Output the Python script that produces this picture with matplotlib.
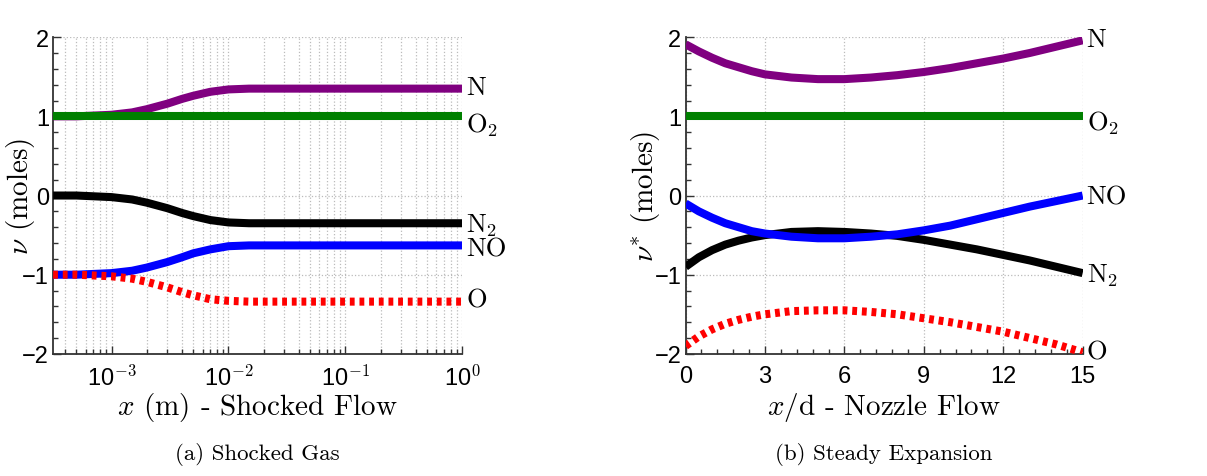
import matplotlib
matplotlib.use('Agg')
import matplotlib.pyplot as plt
import numpy as np
from matplotlib.ticker import FixedLocator, FuncFormatter, MultipleLocator, LogLocator, NullFormatter

plt.rcParams['mathtext.fontset'] = 'cm'
plt.rcParams['axes.unicode_minus'] = True

# (a) shocked gas
x_shock = [10**-3.5, 5e-4, 1e-3, 1.5e-3, 2e-3, 3e-3, 4e-3, 5e-3, 7e-3, 1e-2, 1.5e-2, 2e-2, 5e-2, 1e-1, 1.0]
N_shock = [1.0, 1.0, 1.02, 1.05, 1.09, 1.16, 1.22, 1.26, 1.31, 1.34, 1.35, 1.35, 1.35, 1.35, 1.35]
O2_shock = [1.0] * len(x_shock)
N2_shock = [0.0, 0.0, -0.02, -0.05, -0.09, -0.16, -0.22, -0.26, -0.31, -0.34, -0.35, -0.35, -0.35, -0.35, -0.35]
NO_shock = [-1.0, -1.0, -0.98, -0.95, -0.91, -0.84, -0.78, -0.73, -0.68, -0.64, -0.63, -0.63, -0.63, -0.63, -0.63]
O_shock = [-1.0, -1.0, -1.02, -1.05, -1.09, -1.16, -1.22, -1.26, -1.31, -1.33, -1.34, -1.34, -1.34, -1.34, -1.34]

# (b) steady expansion
x_noz = [0, 0.5, 1, 1.5, 2, 2.5, 3, 4, 5, 6, 7, 8, 9, 10, 11, 12, 13, 14, 15]
N_noz = [1.91, 1.82, 1.74, 1.67, 1.62, 1.57, 1.53, 1.49, 1.47, 1.47, 1.49, 1.52, 1.56, 1.61, 1.67, 1.73, 1.80, 1.88, 1.96]
O2_noz = [1.0] * len(x_noz)
NO_noz = [-0.10, -0.20, -0.28, -0.35, -0.40, -0.45, -0.48, -0.52, -0.54, -0.54, -0.52, -0.49, -0.44, -0.38, -0.30, -0.22, -0.14, -0.07, 0.0]
N2_noz = [-0.90, -0.78, -0.69, -0.62, -0.57, -0.53, -0.50, -0.46, -0.45, -0.46, -0.48, -0.51, -0.56, -0.62, -0.68, -0.75, -0.82, -0.90, -0.98]
O_noz = [-1.90, -1.78, -1.69, -1.62, -1.57, -1.53, -1.50, -1.46, -1.45, -1.45, -1.47, -1.50, -1.55, -1.60, -1.66, -1.72, -1.80, -1.88, -1.98]

species = ['N', 'O$_2$', 'N$_2$', 'NO', 'O']
colors = ['#800080', '#008000', 'black', '#0000ff', '#ff0000']

fig = plt.figure(figsize=(12.07, 4.77), dpi=100)
ax1 = fig.add_axes([0.044, 0.256, 0.339, 0.664])
ax2 = fig.add_axes([0.568, 0.256, 0.329, 0.664])

tick_font = 'Liberation Sans'
lab_font = 'cmr10'
lw = 5.8


def style(ax):
    for s in ['top', 'right']:
        ax.spines[s].set_visible(False)
    for s in ['left', 'bottom']:
        ax.spines[s].set_color('#333333')
        ax.spines[s].set_linewidth(1.3)
    ax.tick_params(which='both', direction='in', colors='#333333', labelcolor='black',
                   labelsize=17, width=1.0)
    ax.tick_params(which='major', length=6)
    ax.tick_params(axis='x', which='major', pad=8)
    ax.tick_params(axis='y', which='major', pad=3)
    ax.tick_params(which='minor', length=3.5)
    for lab in ax.get_xticklabels() + ax.get_yticklabels():
        lab.set_fontfamily(tick_font)


def draw(ax, x, series, label_y):
    for i, (y, c) in enumerate(zip(series, colors)):
        if species[i] == 'O':
            ax.plot(x, y, color=c, lw=lw, dashes=(0.6, 0.6), solid_capstyle='butt',
                    dash_capstyle='butt', zorder=3)
        else:
            ax.plot(x, y, color=c, lw=lw, solid_capstyle='butt', zorder=3)
        ax.text(1.01, label_y[i], species[i], transform=ax.get_yaxis_transform(),
                fontsize=19, fontfamily=lab_font, va='center', ha='left')


def labels(ax, xl, yl, ycoord):
    ax.set_xlabel(xl, fontfamily=lab_font, fontsize=21)
    ax.set_ylabel(yl, fontfamily=lab_font, fontsize=21)
    ax.xaxis.label.set_va('center')
    ax.yaxis.label.set_va('center')
    ax.xaxis.set_label_coords(0.5, -0.165)
    ax.yaxis.set_label_coords(ycoord, 0.5)


# left panel
ax1.set_xscale('log')
draw(ax1, x_shock, [N_shock, O2_shock, N2_shock, NO_shock, O_shock],
     [1.37, 0.9, -0.37, -0.67, -1.32])
ax1.set_xlim(10**-3.5, 1)
ax1.set_ylim(-2, 2)
ax1.xaxis.set_major_locator(FixedLocator([1e-3, 1e-2, 1e-1, 1]))
ax1.xaxis.set_major_formatter(FuncFormatter(lambda v, p: r'10$^{\mathsf{%d}}$' % round(np.log10(v))))
ax1.xaxis.set_minor_locator(LogLocator(base=10, subs=np.arange(2, 10)))
ax1.xaxis.set_minor_formatter(NullFormatter())
ax1.yaxis.set_major_locator(MultipleLocator(1))
ax1.yaxis.set_minor_locator(MultipleLocator(0.2))
ax1.grid(which='major', axis='both', linestyle=':', color='#bbbbbb', lw=0.9)
ax1.grid(which='minor', axis='x', linestyle=':', color='#bbbbbb', lw=0.9)
ax1.set_axisbelow(True)
style(ax1)
labels(ax1, r'$x$ (m) - Shocked Flow', r'$\nu$ (moles)', -0.08)

# right panel
draw(ax2, x_noz, [N_noz, O2_noz, N2_noz, NO_noz, O_noz],
     [1.97, 0.92, -1.0, -0.02, -1.97])
ax2.set_xlim(0, 15)
ax2.set_ylim(-2, 2)
ax2.xaxis.set_major_locator(MultipleLocator(3))
ax2.xaxis.set_minor_locator(MultipleLocator(0.6))
ax2.yaxis.set_major_locator(MultipleLocator(1))
ax2.yaxis.set_minor_locator(MultipleLocator(0.2))
ax2.grid(which='major', linestyle=':', color='#bbbbbb', lw=0.9)
ax2.set_axisbelow(True)
style(ax2)
labels(ax2, r'$x$/d - Nozzle Flow', r'$\nu^{*}$ (moles)', -0.10)

# captions
fig.text(0.213, 0.035, '(a) Shocked Gas', fontfamily=lab_font, fontsize=16.5, ha='center')
fig.text(0.732, 0.035, '(b) Steady Expansion', fontfamily=lab_font, fontsize=16.5, ha='center')

plt.savefig('out.png', dpi=100)
